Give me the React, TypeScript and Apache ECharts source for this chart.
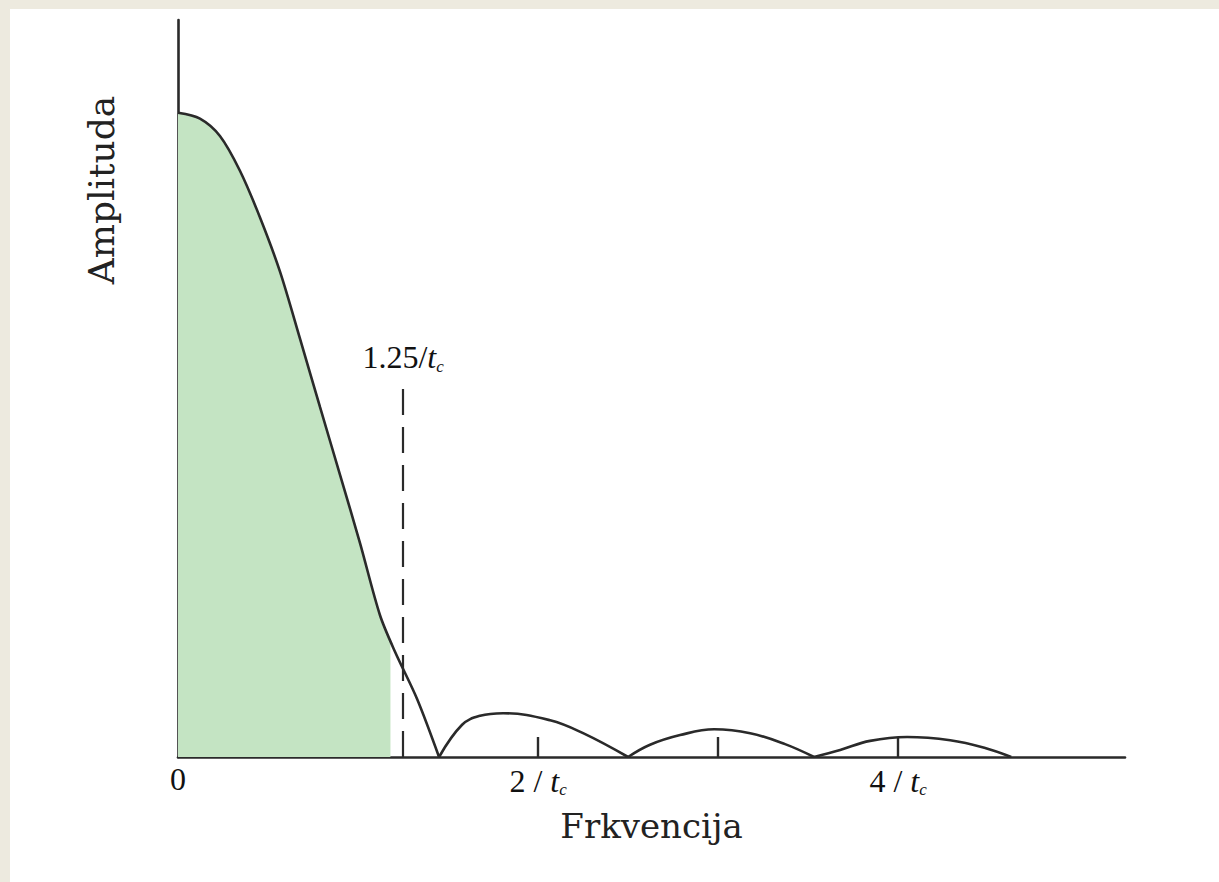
import React, { useEffect, useRef } from "react";
import * as echarts from "echarts";

// Frequency in units of 1/t_c, amplitude normalised to the main peak
const mainLobe: [number, number][] = [
  [0, 1.0], [0.122, 0.991], [0.233, 0.964], [0.344, 0.91], [0.456, 0.837],
  [0.567, 0.753], [0.678, 0.649], [0.789, 0.543], [0.9, 0.438], [1.011, 0.332],
  [1.122, 0.22], [1.206, 0.163], [1.328, 0.09], [1.45, 0.0],
];
const greenFill: [number, number][] = [
  [0, 1.0], [0.122, 0.991], [0.233, 0.964], [0.344, 0.91], [0.456, 0.837],
  [0.567, 0.753], [0.678, 0.649], [0.789, 0.543], [0.9, 0.438], [1.011, 0.332],
  [1.122, 0.22], [1.18, 0.18],
];
const lobe1: [number, number][] = [
  [1.45, 0], [1.578, 0.05], [1.678, 0.064], [1.806, 0.068], [2.067, 0.057],
  [2.25, 0.037], [2.5, 0],
];
const lobe2: [number, number][] = [
  [2.5, 0], [2.622, 0.019], [2.789, 0.034], [2.978, 0.043], [3.178, 0.037],
  [3.372, 0.02], [3.533, 0],
];
const lobe3: [number, number][] = [
  [3.533, 0], [3.678, 0.011], [3.844, 0.025], [4.05, 0.031], [4.289, 0.026],
  [4.483, 0.014], [4.628, 0],
];
const tickValues = [1, 2, 3, 4];
const labelValues = [0, 2, 4];
const cutoff = 1.25;
const cutoffTop = 0.589;

const SERIF = '"Liberation Serif", "Times New Roman", serif';
const NAME_SERIF = '"DejaVu Serif", serif';
const INK = "#2a2a2a";

const tcRich = {
  n: { fontFamily: SERIF, fontSize: 32, color: "#111" },
  t: { fontFamily: SERIF, fontSize: 32, fontStyle: "italic", color: "#111" },
  c: { fontFamily: SERIF, fontSize: 17, fontStyle: "italic", color: "#111", padding: [18, 0, 0, 0] },
};

export default function App() {
  const ref = useRef<HTMLDivElement>(null);
  useEffect(() => {
    if (!ref.current) return;
    const chart = echarts.init(ref.current, null, { renderer: "svg" });
    const curveLine = { color: INK, width: 2.6 };
    chart.setOption({
      animation: false,
      backgroundColor: "#ffffff",
      grid: { left: 178, right: 94, top: 20, bottom: 125 },
      xAxis: {
        type: "value",
        min: 0,
        max: 5.26,
        interval: 1,
        name: "Frkvencija",
        nameLocation: "middle",
        nameGap: 52,
        nameTextStyle: { fontFamily: NAME_SERIF, fontSize: 34, color: "#222" },
        splitLine: { show: false },
        axisLine: { show: true, lineStyle: { color: INK, width: 2.6 } },
        axisTick: {
          show: true,
          inside: true,
          length: 20,
          customValues: tickValues,
          lineStyle: { color: INK, width: 2.4 },
        },
        axisLabel: {
          show: true,
          customValues: labelValues,
          margin: 6,
          formatter: (v: number) => (v === 0 ? "{n|0}" : `{n|${v} / }{t|t}{c|c}`),
          rich: tcRich,
        },
      },
      yAxis: {
        type: "value",
        min: 0,
        max: 1.144,
        splitLine: { show: false },
        axisLine: { show: true, onZero: false, lineStyle: { color: INK, width: 2.6 } },
        axisTick: { show: false },
        axisLabel: { show: false },
      },
      graphic: [
        { type: "rect", shape: { x: 0, y: 0, width: 1219, height: 9 }, style: { fill: "#EDEADF" }, z: 100 },
        { type: "rect", shape: { x: 0, y: 0, width: 10, height: 882 }, style: { fill: "#EDEADF" }, z: 100 },
        {
          type: "text",
          x: 101,
          y: 190,
          rotation: Math.PI / 2,
          style: {
            text: "Amplituda",
            fontFamily: NAME_SERIF,
            fontSize: 36,
            fill: "#222",
            align: "center",
            verticalAlign: "middle",
          },
        },
      ],
      series: [
        {
          type: "line",
          data: greenFill,
          smooth: 0.3,
          symbol: "none",
          lineStyle: { width: 0 },
          areaStyle: { color: "#C4E4C3", opacity: 1 },
          z: 1,
        },
        {
          type: "line",
          data: mainLobe,
          smooth: 0.3,
          symbol: "none",
          lineStyle: curveLine,
          z: 3,
          markLine: {
            silent: true,
            symbol: "none",
            lineStyle: { color: INK, width: 2.2, type: [26, 12] },
            label: {
              show: true,
              position: "end",
              distance: 3,
              formatter: "{n|1.25/}{t|t}{c|c}",
              rich: tcRich,
            },
            data: [[{ coord: [cutoff, 0] }, { coord: [cutoff, cutoffTop] }]],
          },
        },
        { type: "line", data: lobe1, smooth: 0.4, symbol: "none", lineStyle: curveLine, z: 3 },
        { type: "line", data: lobe2, smooth: 0.4, symbol: "none", lineStyle: curveLine, z: 3 },
        { type: "line", data: lobe3, smooth: 0.4, symbol: "none", lineStyle: curveLine, z: 3 },
      ],
    });
    return () => chart.dispose();
  }, []);
  return (
    <div
      ref={ref}
      style={{ position: "absolute", left: 0, top: 0, width: 1219, height: 882 }}
    />
  );
}
